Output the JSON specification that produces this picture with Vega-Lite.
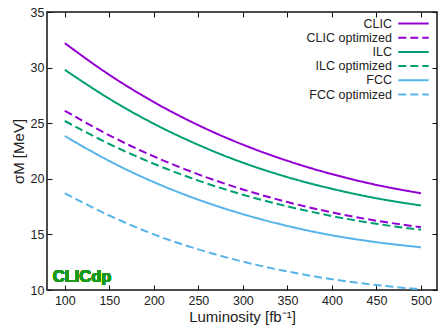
{
  "$schema": "https://vega.github.io/schema/vega-lite/v6.json",
  "width": 390,
  "height": 278,
  "autosize": {"type": "none"},
  "padding": {"left": 47, "top": 12, "right": 3, "bottom": 36},
  "config": {
    "font": "Liberation Sans",
    "view": {"stroke": "#111", "strokeWidth": 1.5},
    "axis": {
      "labelFontSize": 12.5,
      "labelColor": "#222",
      "titleFontSize": 15,
      "titleFontWeight": "normal",
      "titleColor": "#222",
      "grid": false,
      "domain": false,
      "tickColor": "#111",
      "tickWidth": 1,
      "tickSize": -5
    },
    "legend": {
      "labelFontSize": 12.5,
      "labelColor": "#222"
    }
  },
  "data": {
    "values": [
      {"L": 100, "s": 32.2, "series": "CLIC"},
      {"L": 150, "s": 29.35, "series": "CLIC"},
      {"L": 200, "s": 26.9, "series": "CLIC"},
      {"L": 250, "s": 24.82, "series": "CLIC"},
      {"L": 300, "s": 23.07, "series": "CLIC"},
      {"L": 350, "s": 21.62, "series": "CLIC"},
      {"L": 400, "s": 20.42, "series": "CLIC"},
      {"L": 450, "s": 19.45, "series": "CLIC"},
      {"L": 500, "s": 18.7, "series": "CLIC"},
      {"L": 100, "s": 26.12, "series": "CLIC optimized"},
      {"L": 150, "s": 23.91, "series": "CLIC optimized"},
      {"L": 200, "s": 22.01, "series": "CLIC optimized"},
      {"L": 250, "s": 20.4, "series": "CLIC optimized"},
      {"L": 300, "s": 19.04, "series": "CLIC optimized"},
      {"L": 350, "s": 17.91, "series": "CLIC optimized"},
      {"L": 400, "s": 16.98, "series": "CLIC optimized"},
      {"L": 450, "s": 16.23, "series": "CLIC optimized"},
      {"L": 500, "s": 15.65, "series": "CLIC optimized"},
      {"L": 100, "s": 29.8, "series": "ILC"},
      {"L": 150, "s": 27.2, "series": "ILC"},
      {"L": 200, "s": 24.95, "series": "ILC"},
      {"L": 250, "s": 23.05, "series": "ILC"},
      {"L": 300, "s": 21.45, "series": "ILC"},
      {"L": 350, "s": 20.15, "series": "ILC"},
      {"L": 400, "s": 19.1, "series": "ILC"},
      {"L": 450, "s": 18.25, "series": "ILC"},
      {"L": 500, "s": 17.6, "series": "ILC"},
      {"L": 100, "s": 25.2, "series": "ILC optimized"},
      {"L": 150, "s": 23.13, "series": "ILC optimized"},
      {"L": 200, "s": 21.35, "series": "ILC optimized"},
      {"L": 250, "s": 19.84, "series": "ILC optimized"},
      {"L": 300, "s": 18.57, "series": "ILC optimized"},
      {"L": 350, "s": 17.52, "series": "ILC optimized"},
      {"L": 400, "s": 16.65, "series": "ILC optimized"},
      {"L": 450, "s": 15.95, "series": "ILC optimized"},
      {"L": 500, "s": 15.41, "series": "ILC optimized"},
      {"L": 100, "s": 23.85, "series": "FCC"},
      {"L": 150, "s": 21.6, "series": "FCC"},
      {"L": 200, "s": 19.7, "series": "FCC"},
      {"L": 250, "s": 18.12, "series": "FCC"},
      {"L": 300, "s": 16.82, "series": "FCC"},
      {"L": 350, "s": 15.76, "series": "FCC"},
      {"L": 400, "s": 14.92, "series": "FCC"},
      {"L": 450, "s": 14.3, "series": "FCC"},
      {"L": 500, "s": 13.84, "series": "FCC"},
      {"L": 100, "s": 18.7, "series": "FCC optimized"},
      {"L": 150, "s": 16.7, "series": "FCC optimized"},
      {"L": 200, "s": 15.0, "series": "FCC optimized"},
      {"L": 250, "s": 13.65, "series": "FCC optimized"},
      {"L": 300, "s": 12.55, "series": "FCC optimized"},
      {"L": 350, "s": 11.67, "series": "FCC optimized"},
      {"L": 400, "s": 10.97, "series": "FCC optimized"},
      {"L": 450, "s": 10.45, "series": "FCC optimized"},
      {"L": 500, "s": 10.06, "series": "FCC optimized"}
    ]
  },
  "layer": [
    {
      "mark": {"type": "line", "strokeWidth": 2, "interpolate": "monotone"},
      "encoding": {
        "x": {
          "field": "L", "type": "quantitative",
          "scale": {"domain": [80, 518], "nice": false, "zero": false},
          "axis": {"orient": "bottom", "values": [100,150,200,250,300,350,400,450,500], "labelPadding": 9, "title": "Luminosity [fb⁻¹]", "titlePadding": 3}
        },
        "y": {
          "field": "s", "type": "quantitative",
          "scale": {"domain": [10, 35], "nice": false, "zero": false},
          "axis": {"orient": "left", "values": [10,15,20,25,30,35], "labelPadding": 8, "title": "σM [MeV]", "titlePadding": 4}
        },
        "color": {
          "field": "series", "type": "nominal",
          "scale": {
            "domain": ["CLIC", "CLIC optimized", "ILC", "ILC optimized", "FCC", "FCC optimized"],
            "range": ["#9400d3", "#9400d3", "#009e73", "#009e73", "#56b4e9", "#56b4e9"]
          },
          "legend": {
            "orient": "top-right", "title": null, "offset": 2, "padding": 2,
            "symbolType": "M-2.4,0H2.4", "symbolSize": 160, "symbolStrokeWidth": 2,
            "labelAlign": "right", "labelOffset": -29, "rowPadding": 0.2
          }
        },
        "strokeDash": {
          "field": "series", "type": "nominal",
          "scale": {
            "domain": ["CLIC", "CLIC optimized", "ILC", "ILC optimized", "FCC", "FCC optimized"],
            "range": [[1, 0], [8, 4], [1, 0], [8, 4], [1, 0], [8, 4]]
          },
          "legend": {
            "orient": "top-right", "title": null, "offset": 2, "padding": 2,
            "symbolType": "M-2.4,0H2.4", "symbolSize": 160, "symbolStrokeWidth": 2,
            "labelAlign": "right", "labelOffset": -29, "rowPadding": 0.2
          }
        }
      }
    },
    {
      "mark": {"type": "line", "opacity": 0},
      "encoding": {
        "x": {
          "field": "L", "type": "quantitative",
          "axis": {"orient": "top", "values": [100,150,200,250,300,350,400,450,500], "labels": false, "title": null}
        },
        "y": {
          "field": "s", "type": "quantitative",
          "axis": {"orient": "right", "values": [10,15,20,25,30,35], "labels": false, "title": null}
        },
        "detail": {"field": "series"}
      }
    },
    {
      "mark": {"type": "text", "text": "CLICdp", "font": "Liberation Sans", "fontWeight": "bold", "fontSize": 16.5, "color": "#1a9a1a", "align": "left", "baseline": "alphabetic"},
      "encoding": {
        "x": {"datum": 86.5, "type": "quantitative", "axis": null},
        "y": {"datum": 10.72, "type": "quantitative", "axis": null}
      }
    }
  ],
  "resolve": {"axis": {"x": "independent", "y": "independent"}}
}
